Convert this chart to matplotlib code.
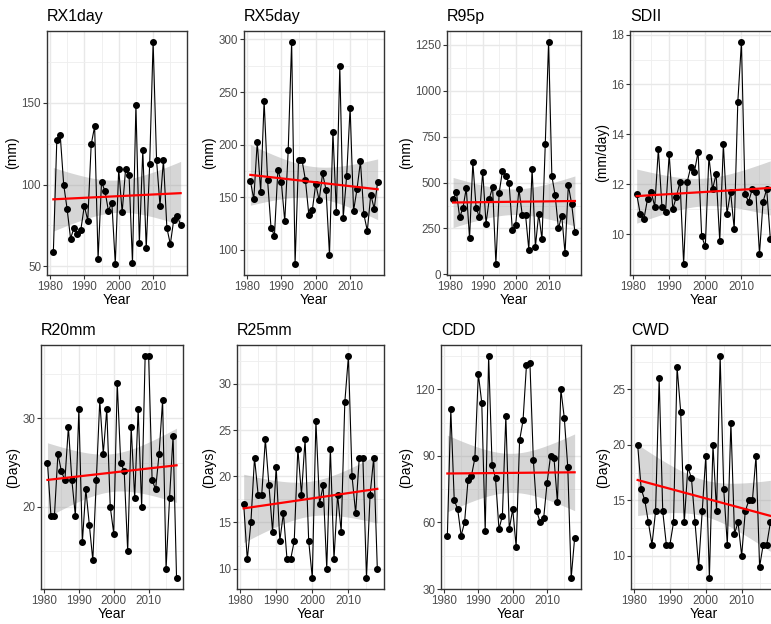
import numpy as np
import matplotlib
matplotlib.use("Agg")
import matplotlib.pyplot as plt
from matplotlib.ticker import MultipleLocator

plt.rcParams["font.family"] = ["Liberation Sans", "DejaVu Sans"]

# data, 1981-2018
years = list(range(1981, 2019))

rx1day = [59, 127, 130, 100, 85, 67, 73.5, 70, 72.5, 87, 78, 124.5, 135.5, 54.5, 101.5, 96,
          84, 89, 51.5, 109.5, 83, 109.5, 106, 52, 148.5, 64, 121, 61, 112.5, 187,
          115, 87, 115, 73.5, 63.5, 78.5, 80.5, 75.5]
rx5day = [165.5, 148, 202.5, 155, 241.5, 166.5, 121, 113.5, 176, 164.5, 127, 194.5, 297.5, 86.5,
          185, 185.5, 166.5, 133, 137.5, 162.5, 147, 172.5, 157, 95, 212, 135.5, 274.5, 130.5,
          170.5, 235, 137, 157.5, 184, 133.5, 118, 152.5, 139, 164.5]
r95p = [408, 448, 311, 362, 469, 196, 610, 360, 312, 560, 277, 412, 475, 57, 444, 565, 534, 498,
        242, 268, 465, 325, 325, 135, 575, 150, 330, 190, 710, 1265, 535, 430, 250, 320, 115,
        485, 385, 230]
sdii = [11.6, 10.8, 10.6, 11.4, 11.7, 11.1, 13.4, 11.1, 10.9, 13.2, 11.0, 11.5, 12.1, 8.8, 12.1,
        12.7, 12.5, 13.3, 9.9, 9.5, 13.1, 11.8, 12.4, 9.7, 13.6, 10.8, 11.7, 10.2, 15.3, 17.7,
        11.6, 11.3, 11.8, 11.7, 9.2, 11.3, 11.8, 9.8]
r20mm = [25, 19, 19, 26, 24, 23, 29, 23, 19, 31, 16, 22, 18, 14, 23, 32, 26, 31, 20, 17, 34, 25,
         24, 15, 29, 21, 31, 20, 37, 37, 23, 22, 26, 32, 13, 21, 28, 12]
r25mm = [17, 11, 15, 22, 18, 18, 24, 19, 14, 21, 13, 16, 11, 11, 13, 23, 18, 24, 13, 9, 26, 17,
         19, 10, 23, 11, 18, 14, 28, 33, 20, 16, 22, 22, 9, 18, 22, 10]
cdd = [54, 111, 70, 66, 54, 60, 79, 81, 89, 127, 114, 56, 135, 86, 80, 57, 63, 108, 57, 66, 49,
       97, 106, 131, 132, 88, 65, 60, 62, 78, 90, 89, 69, 120, 107, 85, 35, 53]
cwd = [20, 16, 15, 13, 11, 14, 26, 14, 11, 11, 13, 27, 23, 13, 18, 17, 13, 9, 14, 19, 8, 20, 14,
       28, 16, 11, 22, 12, 13, 10, 14, 15, 15, 19, 9, 11, 11, 13]

titles = ["RX1day", "RX5day", "R95p", "SDII", "R20mm", "R25mm", "CDD", "CWD"]
ylabels = ["(mm)", "(mm)", "(mm)", "(mm/day)", "(Days)", "(Days)", "(Days)", "(Days)"]
series = [rx1day, rx5day, r95p, sdii, r20mm, r25mm, cdd, cwd]
y_steps = [50, 50, 250, 2, 10, 5, 30, 5]

# panel boxes in pixels (left, top, right, bottom); last column runs off the canvas
W, H = 771, 624
boxes = [(47, 31, 187, 275), (244, 31, 384, 275), (447, 31, 581, 275), (630, 31, 777, 275),
         (41, 345, 183, 589), (237, 345, 384, 589), (441, 345, 581, 589), (631, 345, 777, 589)]

T_CRIT = 2.028  # t(0.975, df = 36)


def lm_band(x, y, n=80):
    """linear fit with 95% confidence band, like geom_smooth(method = 'lm')"""
    x = np.asarray(x, float)
    y = np.asarray(y, float)
    slope, intercept = np.polyfit(x, y, 1)
    xs = np.linspace(x.min(), x.max(), n)
    fit = intercept + slope * xs
    resid = y - (intercept + slope * x)
    s = np.sqrt(np.sum(resid ** 2) / (len(x) - 2))
    se = s * np.sqrt(1 / len(x) + (xs - x.mean()) ** 2 / np.sum((x - x.mean()) ** 2))
    return xs, fit, fit - T_CRIT * se, fit + T_CRIT * se


fig = plt.figure(figsize=(W / 100, H / 100), dpi=100)

for title, ylab, vals, step, (l, t, r, b) in zip(titles, ylabels, series, y_steps, boxes):
    ax = fig.add_axes([l / W, 1 - b / H, (r - l) / W, (b - t) / H])
    xs, fit, lo, hi = lm_band(years, vals)

    ax.fill_between(xs, lo, hi, color="#999999", alpha=0.4, lw=0, zorder=2)
    ax.plot(years, vals, color="black", lw=0.8, zorder=3)
    ax.plot(years, vals, "o", color="black", ms=4, zorder=4)
    ax.plot(xs, fit, color="red", lw=1.6, zorder=5)

    # ggplot style 5% expansion
    ymin = min(min(vals), lo.min())
    ymax = max(max(vals), hi.max())
    pad = 0.05 * (ymax - ymin)
    ax.set_ylim(ymin - pad, ymax + pad)
    ax.set_xlim(1981 - 0.05 * 37, 2018 + 0.05 * 37)

    ax.xaxis.set_major_locator(MultipleLocator(10))
    ax.xaxis.set_minor_locator(MultipleLocator(5))
    ax.yaxis.set_major_locator(MultipleLocator(step))
    ax.yaxis.set_minor_locator(MultipleLocator(step / 2))
    ax.grid(which="major", color="#E8E8E8", lw=1.0, zorder=0)
    ax.grid(which="minor", color="#EEEEEE", lw=0.6, zorder=0)
    ax.set_axisbelow(True)

    ax.tick_params(which="major", length=2.75, width=0.8, color="#333333",
                   labelsize=8.4, labelcolor="#4D4D4D", pad=1.5)
    ax.tick_params(which="minor", length=0)
    for sp in ax.spines.values():
        sp.set_color("#333333")
        sp.set_linewidth(1.0)

    ax.set_xlabel("Year", fontsize=10, labelpad=0)
    ax.set_ylabel(ylab, fontsize=10, labelpad=1.5)
    ax.set_title(title, loc="left", fontsize=11.5, pad=7)

fig.savefig("out.png", dpi=100)
